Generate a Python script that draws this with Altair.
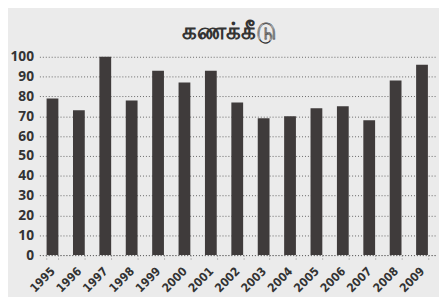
import altair as alt
import pandas as pd

years = ["1995", "1996", "1997", "1998", "1999", "2000", "2001", "2002",
         "2003", "2004", "2005", "2006", "2007", "2008", "2009"]
values = [79, 73, 100, 78, 93, 87, 93, 77, 69, 70, 74, 75, 68, 88, 96]
y_ticks = [0, 10, 20, 30, 40, 50, 60, 70, 80, 90, 100]
title_text = "கணக்கீடு"

df = pd.DataFrame({"year": years, "value": values})

chart = alt.Chart(df).mark_bar(color="#3f3b3b", width=12).encode(
    x=alt.X("year:N", sort=years, title=None,
            scale=alt.Scale(paddingInner=0.55, paddingOuter=0.27),
            axis=alt.Axis(labelAngle=-45, labelAlign="right", labelBaseline="middle",
                          labelFont="DejaVu Sans Condensed", labelFontWeight="bold",
                          labelFontSize=12, labelColor="#333", labelPadding=10,
                          domain=True, domainColor="#666", domainDash=[1, 2],
                          ticks=True, tickColor="#888", tickDash=[1, 2], tickSize=4,
                          tickBand="extent")),
    y=alt.Y("value:Q", title=None,
            scale=alt.Scale(domain=[0, 100], nice=False),
            axis=alt.Axis(values=y_ticks, labelFont="Open Sans", labelFontWeight="bold",
                          labelFontSize=14, labelColor="#333", labelPadding=6,
                          domain=False, ticks=False,
                          grid=True, gridColor="#666", gridDash=[1, 2], gridWidth=1)),
).properties(
    width=403, height=202,
    title=alt.TitleParams(title_text, font="Noto Sans", fontSize=23, fontWeight="bold",
                          color="#333", anchor="middle", offset=6, dx=-8),
    autosize=alt.AutoSizeParams(type="none"),
    padding={"left": 32, "top": 47, "right": 4, "bottom": 40},
    background="#ebebeb",
).configure_view(stroke=None)

chart.save("out.html", embed_options={"renderer": "svg", "actions": False})
